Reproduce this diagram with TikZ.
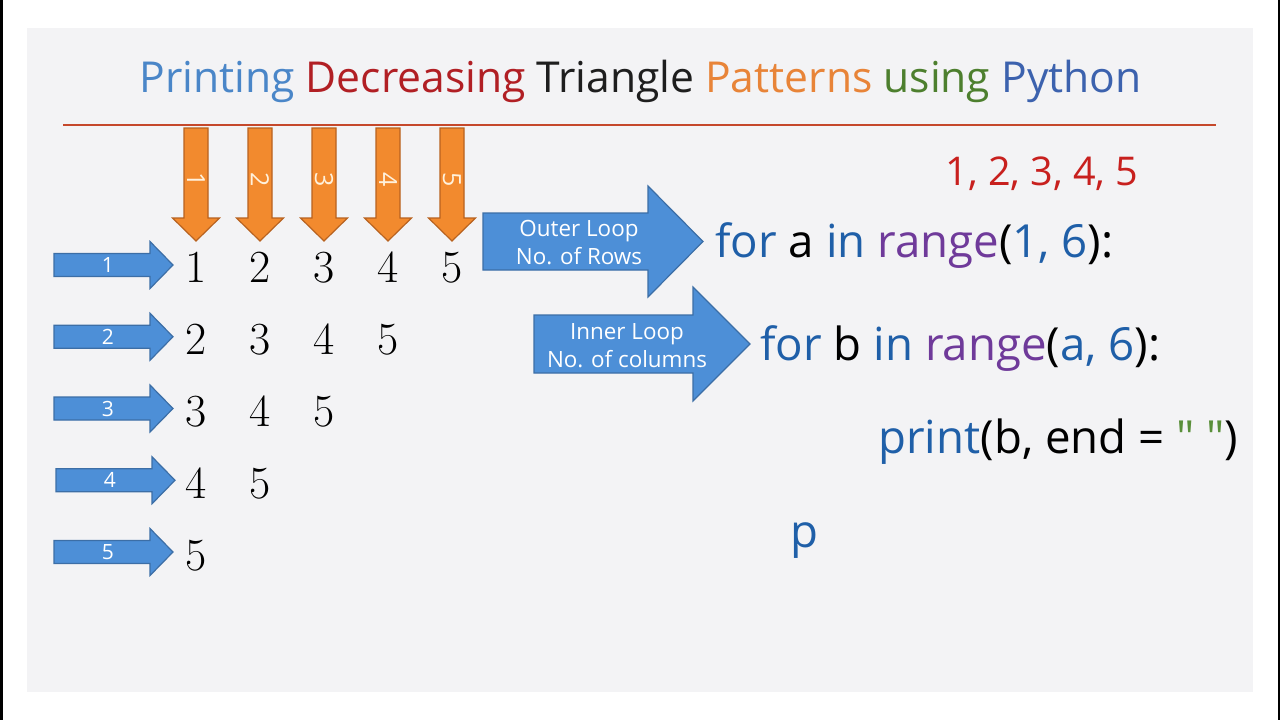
\documentclass[tikz,border=0pt]{standalone}
\usepackage{fontspec}
\usepackage{xcolor}
\usepackage{tikz}
\newfontfamily\uifont{Open Sans}
\definecolor{slidebg}{HTML}{F3F3F5}
\definecolor{tblue}{HTML}{4A86C8}
\definecolor{tred}{HTML}{B11F24}
\definecolor{tink}{HTML}{1E1E1E}
\definecolor{torange}{HTML}{E88438}
\definecolor{tgreen}{HTML}{4D7F2E}
\definecolor{tpython}{HTML}{3C62AE}
\definecolor{rule}{HTML}{C5482B}
\definecolor{orangefill}{HTML}{F28A2E}
\definecolor{orangeline}{HTML}{B8621F}
\definecolor{bluefill}{HTML}{4D8FD7}
\definecolor{blueline}{HTML}{3C6EA6}
\definecolor{kw}{HTML}{1F5FA8}
\definecolor{fn}{HTML}{6F3A9A}
\definecolor{str}{HTML}{5A8F3A}
\definecolor{numred}{HTML}{C8201E}
\definecolor{labelcream}{HTML}{FFF1DC}

\begin{document}
\begin{tikzpicture}[x=0.5pt,y=-0.5pt,
  bluearrow/.style={fill=bluefill,draw=blueline,line width=0.6pt},
  orangearrow/.style={fill=orangefill,draw=orangeline,line width=0.6pt},
  digit/.style={font=\fontsize{23}{28}\selectfont,anchor=base,inner sep=0pt},
  code/.style={font=\uifont\fontsize{22.8}{28}\selectfont,anchor=base west,inner sep=0pt},
  arrowlabel/.style={font=\uifont\fontsize{11.2}{14}\selectfont,text=white,align=center,inner sep=0pt}]
  \useasboundingbox (0,0) rectangle (1280,720);
  \fill[white] (0,0) rectangle (1280,720);
  \fill[black] (0,0) rectangle (2.5,720);
  \fill[black] (1277.5,0) rectangle (1280,720);
  \fill[slidebg] (27,28) rectangle (1253,692);
  % title
  \node[font=\uifont\fontsize{21.3}{26}\selectfont,anchor=base,inner sep=0pt] (title) at (640.5,92)
    {\textcolor{tblue}{Printing} \textcolor{tred}{Decreasing} \textcolor{tink}{Triangle} \textcolor{torange}{Patterns} \textcolor{tgreen}{using} \textcolor{tpython}{Python}};
  \draw[rule,line width=1.2pt] (63,125) -- (1216,125);
  % column arrows
  \foreach \c in {1,...,5}{
    \pgfmathsetmacro{\cx}{196+64*(\c-1)}
    \draw[orangearrow] (\cx-12,128) -- (\cx+12,128) -- (\cx+12,218) -- (\cx+23.5,218) -- (\cx,241) -- (\cx-23.5,218) -- (\cx-12,218) -- cycle;
    \node[rotate=-90,font=\uifont\fontsize{12.5}{14}\selectfont,text=labelcream,inner sep=0pt] (col\c) at (\cx,180) {\c};}
  % row arrows
  \foreach \r/\dx in {1/0,2/0,3/0,4/2,5/0}{
    \pgfmathsetmacro{\cy}{265+71.75*(\r-1)}
    \draw[bluearrow] (54+\dx,\cy-11.5) -- (150+\dx,\cy-11.5) -- (150+\dx,\cy-23.5) -- (173+\dx,\cy) -- (150+\dx,\cy+23.5) -- (150+\dx,\cy+11.5) -- (54+\dx,\cy+11.5) -- cycle;
    \node[font=\uifont\fontsize{10.5}{12}\selectfont,text=white,inner sep=0pt] (row\r) at (108+\dx,\cy) {\r};}
  % triangle
  \foreach \r in {1,...,5}{
    \pgfmathtruncatemacro{\last}{6-\r}
    \foreach \c in {1,...,\last}{
      \pgfmathtruncatemacro{\v}{\r+\c-1}
      \node[digit] (n\r\c) at ({196+64*(\c-1)},{282+72*(\r-1)}) {\v};}}
  % loop arrows
  \draw[bluearrow] (483,213) -- (648,213) -- (648,186) -- (703,241.5) -- (648,297) -- (648,270) -- (483,270) -- cycle;
  \node[arrowlabel] (outer) at (579,243) {Outer Loop\\No. of Rows};
  \draw[bluearrow] (534,315) -- (693,315) -- (693,287) -- (750,344) -- (693,401) -- (693,373) -- (534,373) -- cycle;
  \node[arrowlabel] (inner) at (627,346) {Inner Loop\\No. of columns};
  % code
  \node[code,text=numred,font=\uifont\fontsize{19.8}{24}\selectfont] (seq) at (945,185) {1, 2, 3, 4, 5};
  \node[code] (outerfor) at (715,257) {\textcolor{kw}{for} a \textcolor{kw}{in} \textcolor{fn}{range}(\textcolor{kw}{1, 6}):};
  \node[code] (innerfor) at (760,360) {\textcolor{kw}{for} b \textcolor{kw}{in} \textcolor{fn}{range}(\textcolor{kw}{a, 6}):};
  \node[code] (printb) at (878,453) {\textcolor{kw}{print}(b, end = \textcolor{str}{" "})};
  \node[code,text=kw] (p) at (790,547) {p};
\end{tikzpicture}
\end{document}
